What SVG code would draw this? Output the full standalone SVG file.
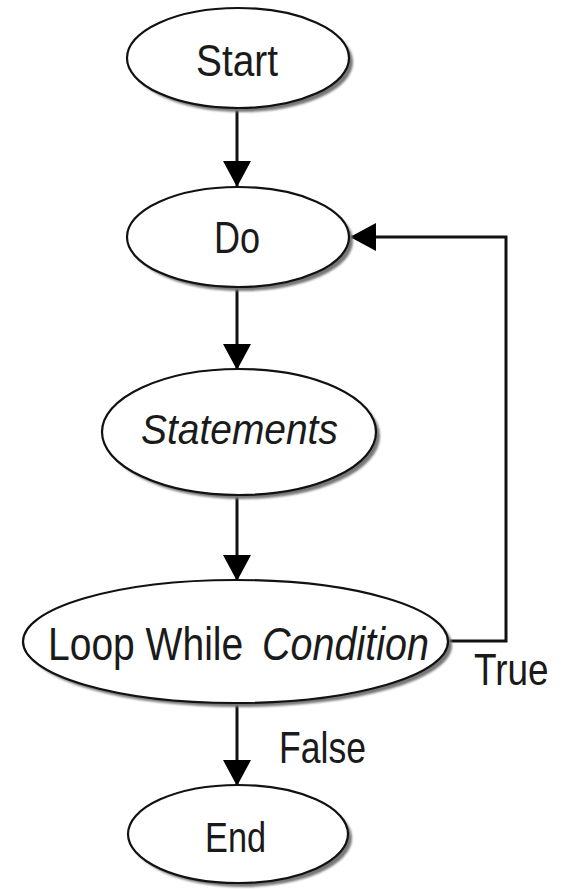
<svg xmlns="http://www.w3.org/2000/svg" width="561" height="889" viewBox="0 0 561 889">
<style>
.sh{fill:#777;filter:url(#blur)}
.nd{fill:#fff;stroke:#111;stroke-width:2.2}
.lb{font-family:"Liberation Sans",Arial,sans-serif;font-size:44px;fill:#1a1a1a}
.it{font-style:italic}
.cn{fill:none;stroke:#111;stroke-width:3}
</style>
<defs>
<filter id="blur" x="-10%" y="-10%" width="120%" height="120%"><feGaussianBlur stdDeviation="1"/></filter>
<marker id="ah" viewBox="0 0 26 28" refX="25" refY="14" markerWidth="26" markerHeight="28" markerUnits="userSpaceOnUse" orient="auto">
<path d="M0,0 L26,14 L0,28 Z" fill="#000"/>
</marker>
</defs>
<g id="connectors">
<line class="cn" x1="237" y1="108" x2="237" y2="186" marker-end="url(#ah)"/>
<line class="cn" x1="237" y1="287" x2="237" y2="369" marker-end="url(#ah)"/>
<line class="cn" x1="237" y1="495" x2="237" y2="580" marker-end="url(#ah)"/>
<line class="cn" x1="237" y1="703" x2="237" y2="785" marker-end="url(#ah)"/>
<path class="cn" d="M448,641 H506 V237 H351" marker-end="url(#ah)"/>
<text class="lb" transform="translate(474,685) scale(0.84,1)">True</text>
<text class="lb" transform="translate(279,763) scale(0.79,1)" style="font-size:45px">False</text>
</g>
<g id="start">
<ellipse class="sh" cx="242" cy="62" rx="111" ry="50"/>
<ellipse class="nd" cx="238" cy="58" rx="111" ry="50"/>
<text class="lb" transform="translate(196,76) scale(0.883,1)">Start</text>
</g>
<g id="do">
<ellipse class="sh" cx="242" cy="241" rx="111" ry="50"/>
<ellipse class="nd" cx="238" cy="237" rx="111" ry="50"/>
<text class="lb" transform="translate(214,253) scale(0.82,1)">Do</text>
</g>
<g id="statements">
<ellipse class="sh" cx="243" cy="436" rx="137" ry="63"/>
<ellipse class="nd" cx="239" cy="432" rx="137" ry="63"/>
<text class="lb it" transform="translate(141,444) scale(0.927,1)" style="font-size:42px">Statements</text>
</g>
<g id="loopwhile">
<ellipse class="sh" cx="239.5" cy="645.5" rx="212.5" ry="61.5"/>
<ellipse class="nd" cx="235.5" cy="641.5" rx="212.5" ry="61.5"/>
<text class="lb" transform="translate(48,660) scale(0.83,1)" style="font-size:47px">Loop While</text>
<text class="lb it" transform="translate(262,660) scale(0.841,1)" style="font-size:47px">Condition</text>
</g>
<g id="end">
<ellipse class="sh" cx="242" cy="838" rx="110" ry="49"/>
<ellipse class="nd" cx="238" cy="834" rx="110" ry="49"/>
<text class="lb" transform="translate(205,852) scale(0.817,1)" style="font-size:42px">End</text>
</g>
</svg>
